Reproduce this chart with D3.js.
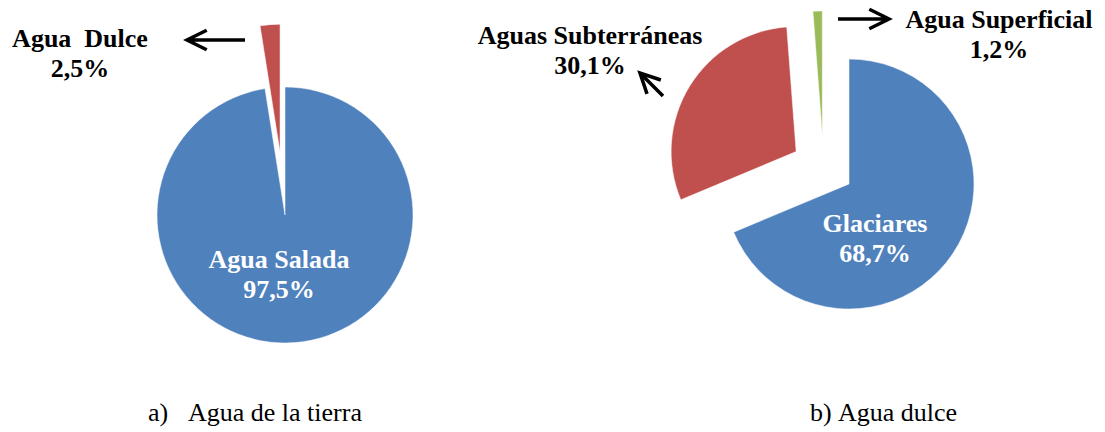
<!DOCTYPE html>
<html>
<head><meta charset="utf-8"><script src="https://d3js.org/d3.v7.min.js"></script></head>
<body style="margin:0">
<svg width="1105" height="432" id="t"></svg>
<script>
    // datos
    const tierraLabels=["Agua Salada","Agua  Dulce"];
    const tierraValues=[97.5,2.5];
    const dulceLabels=["Glaciares","Aguas Subterráneas","Agua Superficial"];
    const dulceValues=[68.7,30.1,1.2];
    const captions=["a)","Agua de la tierra","b)","Agua dulce"];

    const colors=["#4F81BD","#C0504D","#9BBB59"];
    const fmt=v=>d3.format(".1f")(v).replace(".",",")+"%";
    const fam='"Liberation Serif", monospace';

    let svg=d3.select("#t");

    // dibuja un pastel; explode = [distancia, angulo (null = bisectriz)]
    function drawPie(g, values, r, explode){
        let pie=d3.pie().sort(null).value(d=>d);
        let arc=d3.arc().innerRadius(0).outerRadius(r);
        g.selectAll("path").data(pie(values))
            .join("path")
            .attr("fill",(d,i)=>colors[i])
            .attr("stroke","#fff")
            .attr("stroke-width",0.5)
            .attr("d",arc)
            .attr("transform",(d,i)=>{
                let e=explode[i];
                if(!e) return null;
                let a=e[1]==null ? (d.startAngle+d.endAngle)/2 : e[1]*Math.PI/180;
                return `translate(${e[0]*Math.sin(a)},${-e[0]*Math.cos(a)})`;
            });
    }

    function arrow(x1,y1,x2,y2){
        let a=Math.atan2(y2-y1,x2-x1);
        let len=22, sp=0.46;
        let p=d3.path();
        p.moveTo(x1,y1); p.lineTo(x2,y2);
        p.moveTo(x2-len*Math.cos(a-sp), y2-len*Math.sin(a-sp));
        p.lineTo(x2,y2);
        p.lineTo(x2-len*Math.cos(a+sp), y2-len*Math.sin(a+sp));
        svg.append("path").attr("d",p.toString())
            .attr("fill","none").attr("stroke","#000")
            .attr("stroke-width",3.5);
    }

    // a) Agua de la tierra
    drawPie(svg.append("g").attr("transform","translate(285,215)"), tierraValues, 128, [null,[63,null]]);
    arrow(245,40,187,40);

    // b) Agua dulce
    drawPie(svg.append("g").attr("transform","translate(849,184)"), dulceValues, 125, [null,[62,null],[55,-29]]);
    arrow(663,96,640,73);
    arrow(838,19,889,19);

    // etiquetas (dos lineas cada una)
    const labX=[279,80,875,590,999];
    const labY=[268,47,232,44,28];
    const labText=[
        [tierraLabels[0],fmt(tierraValues[0])],
        [tierraLabels[1],fmt(tierraValues[1])],
        [dulceLabels[0],fmt(dulceValues[0])],
        [dulceLabels[1],fmt(dulceValues[1])],
        [dulceLabels[2],fmt(dulceValues[2])]
    ];
    const labFill=["#fff","#000","#fff","#000","#000"];
    let rows=[];
    labText.forEach((l,i)=>l.forEach((s,j)=>rows.push({s:s,x:labX[i],y:labY[i]+j*30,f:labFill[i]})));
    svg.append("g").selectAll("text").data(rows).join("text")
        .attr("x",d=>d.x).attr("y",d=>d.y)
        .attr("text-anchor","middle")
        .attr("font-size",26).attr("font-weight","bold")
        .attr("fill",d=>d.f)
        .attr("xml:space","preserve")
        .style("font-family",d=>fam)
        .text(d=>d.s);

    // leyendas inferiores
    const capX=[148,188,810,838];
    svg.append("g").selectAll("text").data(captions).join("text")
        .attr("x",(d,i)=>capX[i]).attr("y",421)
        .attr("font-size",26)
        .style("font-family",d=>fam)
        .text(d=>d);
</script>
</body></html>
